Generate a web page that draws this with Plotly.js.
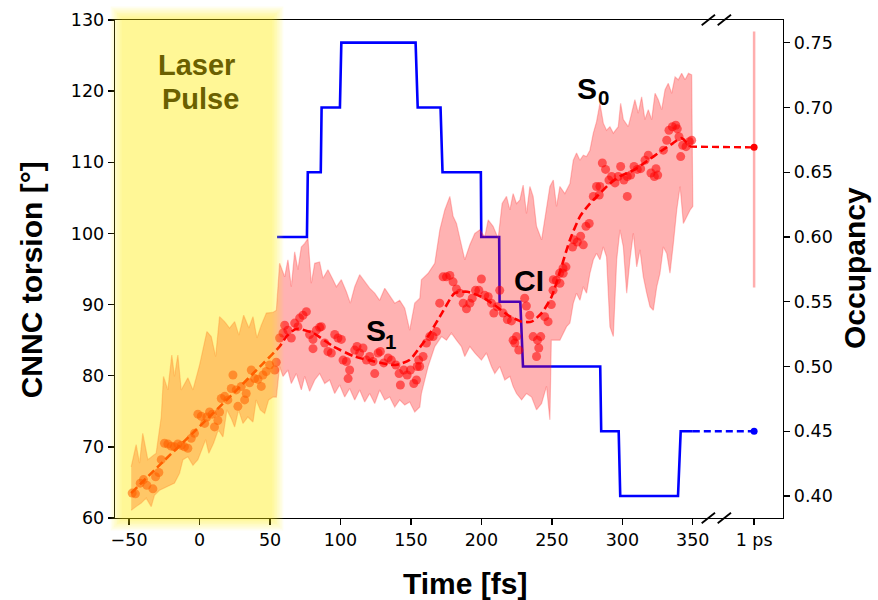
<!DOCTYPE html>
<html>
<head>
<meta charset="utf-8">
<script src="https://cdn.plot.ly/plotly-3.0.1.min.js"></script>
<style>html,body{margin:0;padding:0;background:#fff;}#chart{width:878px;height:600px;}</style>
</head>
<body>
<div id="chart"></div>
<script>
// ---- Data ----
const bandUpperT = [-48.5,-45,-42.6,-40.3,-36.7,-30.8,-27.2,-25.6,-22.5,-19.7,-17.8,-15.4,-13,-8.3,-4.7,0,5.2,8.3,11.4,14.2,17.8,21.3,24.9,27.9,31.3,35,37.9,40.7,43.8,47.4,52,54.5,56.8,60.4,62.7,65.1,67.5,69.8,72.2,74.6,76.9,79.3,81.7,85.2,87.6,91.1,94.7,97.1,100.6,104.2,107,110.1,113.6,117.2,120.7,124.3,127.8,131.4,134.9,138.5,142,145.6,149.1,152.7,156.3,157.4,162.2,166.9,170.5,174,177.6,179.9,182.3,185.8,188.2,191.8,195.3,198.9,202.4,204.8,208.3,211.9,214.7,217.8,220.2,222.5,224.9,227.3,229.6,232,234.4,236.7,239.1,242.7,246.2,248.6,251,253.3,255.7,259.2,262.8,265.2,267.5,269.9,272.3,274.6,277,279.4,281.7,284.1,286.5,288.8,291.2,293.6,297.1,298.8,300.7,304.2,306.6,308.9,311.3,313.7,316,318.4,320.8,323.2,325.5,327.9,330.3,332.6,335,337.4,339.7,342.1,344.5,346.9,349.2];
const bandUpperV = [67.2,70.3,67.7,71.9,68.2,69.1,74.2,79.9,78.0,82.9,79.9,82.9,78.0,79.7,78.0,81.5,86.2,85.5,82.7,88.3,87.6,86.7,87.6,85.7,88.5,86.7,88.3,85.3,87.1,88.8,88.9,89.2,95.8,93.9,96.3,92.5,97.4,94.9,98.1,98.6,99.3,93.0,95.8,96.0,93.7,94.9,93.5,92.5,93.5,91.8,90.2,92.5,94.2,93.2,92.3,91.6,90.6,92.3,91.3,90.2,90.6,89.5,86.4,90.2,90.9,93.5,94.4,95.8,100.5,103.3,105.2,102.4,101.4,98.1,96.3,98.4,100,100.5,99.5,101.9,101,99.3,104.2,105.2,103.3,105.6,104.2,104.7,106.8,102.8,106.6,105.2,101,99.1,103.3,106.6,107.5,103.8,106.6,105.6,107,110.3,111.3,110.3,111.0,110.8,111.7,114.1,115.7,118.3,115.5,114.5,115.0,114.1,115.0,118.3,116.0,115.0,116.9,118.8,116.9,119.2,116,117.4,116,119.7,118.8,117.4,120.2,121.1,119.7,122.0,121.6,122.5,121.6,122.5,122.3];
const bandLowerT = [-48.5,-45,-41.4,-37.9,-34.3,-32,-28.4,-23.7,-17.8,-14.2,-11.8,-8.3,-4.7,-1.2,1.9,4.3,6.6,9.9,13.3,16.6,19.4,22.5,24.9,27.7,30.8,34.3,37.9,40.2,43.1,46.2,49,52.1,54.5,55.6,56.8,59.2,62.7,65.1,68.7,72.2,74.6,78.1,81.7,85.2,88.8,92.3,95.9,99.4,103,106.5,110.1,113.6,117.2,120.7,124.3,127.8,131.4,134.9,138.5,142,145.6,149.1,152.7,156.3,157.4,162.2,166.9,171.7,175.2,178.7,182.3,185.8,188.2,191.8,195.3,200,203.6,207.1,209.5,213,216.6,220.2,222.5,224.9,228.5,232,235.6,239.1,242.7,246.2,248.6,249.6,251,255.7,260.4,262.8,265.2,267.5,269.9,272.3,274.6,277,279.4,281.7,284.1,286.5,288.8,291.2,293.6,296,298.3,300.7,303.1,305.4,307.8,310.2,312.5,314.9,317.3,319.6,322,324.4,326.7,329.1,331.5,333.8,336.2,338.6,341,343.3,345.7,348.1,350];
const bandLowerV = [61.1,61.6,62.1,62.8,61.6,63.2,63.9,64.4,64.9,66.3,68.2,68.6,67.4,68.2,69.8,71,69.1,70.5,72.4,71.4,75.2,74,72.8,75.2,73.3,74.2,73.5,76.6,75.2,74.7,76.6,77.0,77.0,78.4,81.3,79.9,80.8,78.9,80.3,78,79.9,77.8,79.4,80.3,78.9,79.4,77.5,78.7,77.0,78.2,76.6,78,76.3,77.5,76.1,78,76.6,77.0,75.6,76.6,75.9,76.3,74.9,75.6,77.5,81.3,84.1,85.5,85.0,86.0,85.0,84.1,82.7,84.1,83.2,82.2,83.2,81.3,80.3,81.3,79.4,79.9,78.5,77.5,76.6,77.5,77.0,75.2,76.1,78.5,73.8,85.0,85.0,85.0,86.9,87.4,90.2,91.6,90.6,92.5,91.6,94.4,96.3,97.2,96.3,98.1,96.7,86.9,85.5,96.3,100.5,98.1,91.6,96.3,100.0,95.3,97.7,93.9,91.6,89.7,89.2,92.5,94.4,98.1,97.2,94.4,98.6,103.3,106.6,101.4,102.4,103.3,103.8];

const meanT = [-48.5,-26,-2.4,21.3,45,56.8,62,68.7,80.5,95,110,124,139,149,156,162,172,181,190,200,209.5,219,228.5,235.6,242.7,249.8,256,262.8,270,277,284,291,298,308,317,327,336,342,348];
const meanV = [63.5,67.9,72.4,77.0,81.7,84.1,85.6,86.6,86.0,84.1,82.7,82.0,81.5,82.2,83.9,85.5,88.8,91.6,91.8,91.1,89.9,88.5,87.6,87.6,88.8,91.1,94.8,99.1,102.4,104.2,105.6,107,108,108.9,110.1,111.5,112.7,113.4,112.2];

const ptsT = [-47.8,-45.5,-42.1,-39.8,-37.4,-33.1,-31.2,-28.9,-27.2,-24.9,-22.5,-20.1,-17.8,-15.4,-13.0,-10.7,-8.3,-5.9,-3.6,-1.2,1.2,3.6,5.2,7.1,9.0,10.6,13.0,14.2,15.4,17.8,20.1,22.5,23.7,26.0,27.2,29.6,32.0,33.1,35.5,36.7,39.1,41.4,43.8,45.0,47.3,49.7,53.3,54.4,
56.8,59.2,60.4,62.7,65.1,67.5,69.8,71.0,73.4,75.8,78.1,80.5,80.5,82.9,85.2,86.4,88.8,91.1,93.5,95.9,98.2,100.6,101.8,104.2,106.5,105.4,110.1,111.7,113.6,116.0,118.4,120.7,123.1,124.3,126.7,128.3,130.7,133.8,136.1,139.3,141.6,142.5,144.9,147.3,149.6,152.0,154.4,155.5,
153.9,156.2,158.6,161.0,163.3,165.7,168.1,170.4,172.8,175.2,177.6,179.9,182.3,184.7,187.1,189.4,191.8,193.5,195.8,198.2,200.0,202.4,204.8,207.1,208.8,211.2,213.0,215.4,218.4,221.3,222.5,223.7,224.9,226.5,230.7,231.9,234.3,236.7,239.8,242.1,240.7,239.1,244.9,247.3,249.6,250.8,253.2,255.5,257.9,
251.0,255.7,258.0,260.0,264.7,265.6,268.0,270.4,272.3,274.2,276.5,279.4,281.7,284.1,283.6,285.8,288.1,290.5,292.4,294.8,297.1,298.8,301.1,303.5,303.5,305.9,308.3,310.6,313.0,316.1,318.4,320.3,322.7,325.1,323.9,329.1,331.5,333.1,335.5,337.9,339.0,340.2,341.4,342.8,345.2,347.6,349.2];
const ptsV = [63.5,63.4,64.9,65.4,64.6,64.1,65.8,66.4,68.2,70.5,70.4,70.1,70.0,70.4,70.2,70.0,69.8,71.2,71.9,74.6,74.3,73.3,74.2,74.9,74.6,72.8,73.7,74.9,76.8,77.1,76.6,78.2,80.1,78.0,75.7,78.5,76.6,77.5,79.0,80.8,79.6,79.5,78.5,80.1,80.6,81.5,80.8,81.9,
85.3,86.0,87.1,86.4,85.3,87.4,86.9,88.1,88.5,89.0,85.8,85.1,83.8,86.4,86.8,86.9,84.6,83.4,83.2,85.8,85.3,85.1,82.2,82.0,80.8,79.6,83.6,84.1,83.2,83.9,82.2,82.7,82.0,80.3,83.2,83.4,81.8,82.5,82.2,81.5,80.3,78.7,80.8,80.1,80.8,78.9,81.3,82.2,
79.4,81.3,82.7,84.6,85.5,85.5,86.2,90.2,93.9,93.9,94.1,93.2,92.2,91.6,90.2,89.4,90.2,90.9,92.0,92.0,93.6,91.3,91.1,90.2,88.8,89.7,92.0,88.8,87.9,87.7,85.0,84.6,85.5,83.6,90.9,89.8,88.5,85.5,85.0,85.5,83.9,82.7,88.3,87.6,90.0,92.0,93.4,94.4,95.1,
93.5,93.0,94.4,95.3,98.1,99.1,98.8,99.6,98.4,101.0,101.4,105.2,106.6,106.6,105.4,109.9,109.0,107.5,108.0,107.1,108.0,109.4,107.5,108.0,105.2,108.2,109.4,109.0,109.1,110.3,111.0,108.5,108.0,108.2,109.1,111.7,113.1,114.5,115.0,115.2,114.7,113.6,110.8,112.4,112.2,112.9,113.1];

const occT = [55,76.2,76.8,86,86.6,99.6,100.6,153.3,154.8,171,172.4,199.6,199.9,212.6,212.9,227.6,229.5,284.3,285,297.4,298.5,339.5,341.4,350];
const occV = [0.60,0.60,0.65,0.65,0.70,0.70,0.75,0.75,0.70,0.70,0.65,0.65,0.60,0.60,0.55,0.55,0.50,0.50,0.45,0.45,0.40,0.40,0.45,0.45];

const psT = 393.5;          // "1 ps" position on the time axis
const psTorsion = 112.1;
const psTorsionLow = 92.4, psTorsionHigh = 128.4;
const psOcc = 0.45;
const tailStartT = 348, tailStartOccT = 350;

const xTickVals = [-50,0,50,100,150,200,250,300,350,psT];
const xTickText = ['\u221250','0','50','100','150','200','250','300','350','1 ps'];
const torsionTicks = [60,70,80,90,100,110,120,130];
const occTicks = [0.40,0.45,0.50,0.55,0.60,0.65,0.70,0.75];

// ---- Build traces ----
const polyX = bandUpperT.concat(bandLowerT.slice().reverse());
const polyY = bandUpperV.concat(bandLowerV.slice().reverse());

const traces = [
  {x: occT, y: occV, xaxis:'x', yaxis:'y', mode:'lines', line:{color:'#0000ff', width:2.6}, hoverinfo:'skip'},
  {x: [tailStartOccT, psT], y: [psOcc, psOcc], xaxis:'x', yaxis:'y', mode:'lines', line:{color:'#0000ff', width:2.4, dash:'7px,4px'}},
  {x: [psT], y: [psOcc], xaxis:'x', yaxis:'y', mode:'markers', marker:{color:'#0000ff', size:7}},
  {x: polyX, y: polyY, xaxis:'x', yaxis:'y2', mode:'lines', fill:'toself', fillcolor:'rgba(255,0,0,0.30)', line:{color:'rgba(255,40,40,0.28)', width:1.2}},
  {x: [psT, psT], y: [psTorsionLow, psTorsionHigh], xaxis:'x', yaxis:'y2', mode:'lines', line:{color:'rgba(255,120,120,0.6)', width:2.5}},
  {x: ptsT, y: ptsV, xaxis:'x', yaxis:'y2', mode:'markers', marker:{color:'rgba(255,0,0,0.55)', size:9, line:{width:0}}},
  {x: meanT, y: meanV, xaxis:'x', yaxis:'y2', mode:'lines', line:{color:'#ff0000', width:2.6, dash:'8px,4px', shape:'spline', smoothing:0.6}},
  {x: [tailStartT, psT], y: [meanV[meanV.length-1], psTorsion], xaxis:'x', yaxis:'y2', mode:'lines', line:{color:'#ff0000', width:2.4, dash:'7px,4px'}},
  {x: [psT], y: [psTorsion], xaxis:'x', yaxis:'y2', mode:'markers', marker:{color:'#ff0000', size:7}}
];

// ---- Layout helpers (pixel -> paper) ----
const L = 115, R = 783, T = 20, B = 518;
const px = v => (v - L) / (R - L);
const py = v => (B - v) / (B - T);

const shapes = [];
// blurred yellow "laser pulse" band, drawn as nested translucent rectangles
const yl = 117, yr = 277, yt = 13, yb = 524, N = 8, step = 1.6;
for (let i = 0; i < N; i++) {
  const o = (N/2 - i) * step;
  shapes.push({type:'rect', xref:'paper', yref:'paper', layer:'above',
    x0: px(yl - o), x1: px(yr + o), y0: py(yb + o), y1: py(yt - o),
    line:{width:0}, fillcolor:'rgb(255,235,0)', opacity:0.062});
}
// axis break marks
[[701.7,715],[717.7,731]].forEach(([a,b]) => {
  shapes.push({type:'line', xref:'paper', yref:'paper', layer:'above', x0:px(a), x1:px(b), y0:py(25.3), y1:py(14.7), line:{color:'#000', width:1.8}});
  shapes.push({type:'line', xref:'paper', yref:'paper', layer:'above', x0:px(a), x1:px(b), y0:py(523.3), y1:py(512.7), line:{color:'#000', width:1.8}});
});

const bold = 'Liberation Sans, Arial, sans-serif';
const ann = (t, x, y, size, color, angle) => ({text:t, xref:'paper', yref:'paper', x:px(x), y:py(y), showarrow:false,
  xanchor:'center', yanchor:'middle', textangle: angle || 0, font:{family:bold, size:size, color:color || '#000'}});

const annotations = [
  ann('<b>Laser</b>', 196.2, 65, 29, '#6b6000'),
  ann('<b>Pulse</b>', 200, 99, 29, '#6b6000'),
  ann('<b>S</b>', 586.7, 88.3, 30),
  ann('<b>0</b>', 603.5, 97, 20.5),
  ann('<b>S</b>', 375.5, 330, 30),
  ann('<b>1</b>', 390.5, 341, 20.5),
  ann('<b>CI</b>', 529.2, 280.3, 30),
  ann('<b>Time [fs]</b>', 464.8, 583.6, 30),
  ann('<b>CNNC torsion [°]</b>', 31.3, 280, 30, '#000', -90),
  ann('<b>Occupancy</b>', 854, 268, 30, '#000', -90)
];

const tickFont = {family:'DejaVu Sans, sans-serif', size:17.5, color:'#000'};
const axisCommon = {showgrid:false, zeroline:false, showline:true, linecolor:'#000', linewidth:1.3,
  ticks:'outside', ticklen:6, tickwidth:1.3, tickcolor:'#000', tickfont:tickFont, fixedrange:true};

const layout = {
  width:878, height:600,
  margin:{l:L, r:878-R, t:T, b:600-B, pad:0},
  paper_bgcolor:'#fff', plot_bgcolor:'#fff',
  showlegend:false,
  xaxis: Object.assign({}, axisCommon, {range:[-60,414], tickmode:'array', tickvals:xTickVals, ticktext:xTickText, mirror:true}),
  yaxis: Object.assign({}, axisCommon, {range:[0.383,0.7675], side:'right', anchor:'x', tickmode:'array', tickvals:occTicks, ticktext:occTicks.map(v=>v.toFixed(2))}),
  yaxis2: Object.assign({}, axisCommon, {range:[60,130], side:'left', overlaying:'y', anchor:'x', tickmode:'array', tickvals:torsionTicks, ticktext:torsionTicks.map(String)}),
  shapes: shapes,
  annotations: annotations
};

Plotly.newPlot('chart', traces, layout, {staticPlot:true, displayModeBar:false});
</script>
</body>
</html>
